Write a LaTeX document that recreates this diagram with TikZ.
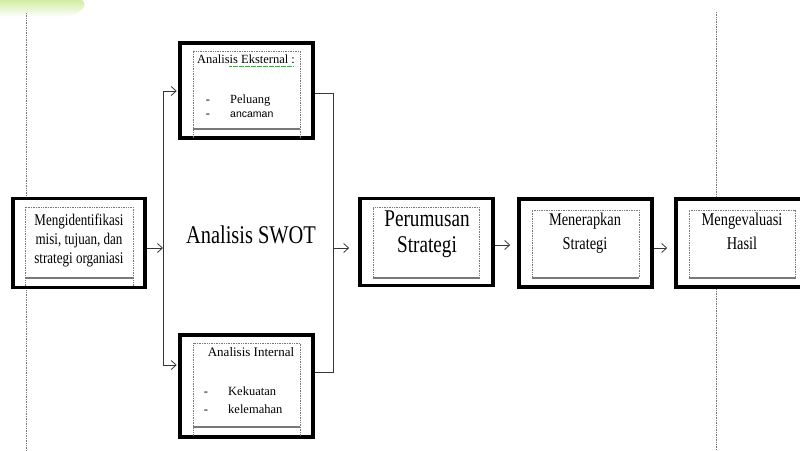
\documentclass[tikz,border=0pt]{standalone}
\usepackage{fontspec}
\setmainfont{Liberation Serif}
\newfontfamily\narrowserif{Liberation Serif}[FakeStretch=0.8]
\newfontfamily\uisans{Liberation Sans}
\usetikzlibrary{arrows.meta}

\definecolor{blobgreen}{RGB}{210,236,164}
\definecolor{inkline}{RGB}{55,55,55}
\definecolor{dotgray}{RGB}{120,120,120}
\definecolor{spellgreen}{RGB}{70,165,70}

\tikzset{
  stagebox/.style={draw=black, fill=white, line width=3.5pt, inner sep=0pt},
  guide/.style={draw=dotgray, line width=0.6pt, dash pattern=on 0.8pt off 0.9pt},
  frame/.style={draw=dotgray, line width=0.6pt, dash pattern=on 0.8pt off 0.9pt},
  frameedge/.style={draw=dotgray, line width=1.1pt, dash pattern=on 0.45pt off 0.35pt},
  link/.style={draw=inkline, line width=0.8pt},
  flow/.style={link, -{Straight Barb[length=5pt,width=9pt]}},
  caption/.style={inner sep=0pt, align=center, text=black},
  smalltext/.style={inner sep=0pt, text=black, font=\fontsize{12.5}{14}\selectfont},
}

\begin{document}
\begin{tikzpicture}[x=1pt,y=-1pt]
\useasboundingbox (0,0) rectangle (800,450);
\clip (0,0) rectangle (800,450);

% soft green patch in the corner
\shade[top color=blobgreen, bottom color=white]
  (0,0) -- (82,0) .. controls (90,6) and (78,17) .. (60,17) -- (0,17) -- cycle;

% vertical dotted guides
\draw[guide] (26,13) -- (26,450);
\draw[guide] (716,12) -- (716,450);

% stage boxes
\node[stagebox, minimum width=132pt, minimum height=89pt]  (ident)     at (79,243)    {};
\node[stagebox, minimum width=133pt, minimum height=95pt]  (ext)       at (246.5,90.5) {};
\node[stagebox, minimum width=133pt, minimum height=102pt] (int)       at (246.5,386) {};
\node[stagebox, minimum width=133pt, minimum height=87pt]  (perumusan) at (426.5,242) {};
\node[stagebox, minimum width=133pt, minimum height=88pt]  (penerapan) at (585.5,243) {};
\node[stagebox, minimum width=132pt, minimum height=88pt]  (evaluasi)  at (742,243)   {};

% dotted text frames inside the boxes
\draw[frame] (25,286) -- (25,207) -- (133,207) -- (133,286);
\draw[frameedge] (25,278) -- (133,278);
\draw[frame] (193,138) -- (193,51) -- (300,51) -- (300,138);
\draw[frameedge] (193,129) -- (300,129);
\draw[frame] (193,436) -- (193,343) -- (300,343) -- (300,436);
\draw[frameedge] (193,427) -- (300,427);
\draw[frame] (373,278) -- (373,207) -- (479,207) -- (479,278);
\draw[frameedge] (373,278) -- (479,278);
\draw[frame] (532,278) -- (532,210) -- (639,210) -- (639,278);
\draw[frameedge] (532,278) -- (639,278);
\draw[frame] (689,278) -- (689,210) -- (795,210) -- (795,278);
\draw[frameedge] (689,278) -- (795,278);

% texts
\node[caption, font=\narrowserif\fontsize{16.3}{19}\selectfont] (identText) at (79,241)
  {Mengidentifikasi\\misi, tujuan, dan\\strategi organiasi};
\node[caption, font=\narrowserif\fontsize{25.5}{30}\selectfont] (swot) at (251,234.5) {Analisis SWOT};

\node[smalltext, anchor=base] (extTitle) at (246,63) {Analisis Eksternal :};
\draw[spellgreen, line width=0.6pt, dash pattern=on 0.6pt off 0.6pt] (229,66) -- (293,66);
\node[smalltext, anchor=base] (extDashA) at (208,103) {-};
\node[smalltext, anchor=base west] (peluang) at (230,103) {Peluang};
\node[smalltext, anchor=base] (extDashB) at (208,117) {-};
\node[inner sep=0pt, anchor=base west, font=\uisans\fontsize{10.5}{12}\selectfont] (ancaman) at (230,117) {ancaman};

\node[smalltext, anchor=base, font=\fontsize{13}{15}\selectfont] (intTitle) at (251,356) {Analisis Internal};
\node[smalltext, anchor=base] (intDashA) at (206,395) {-};
\node[smalltext, anchor=base west] (kekuatan) at (228,395) {Kekuatan};
\node[smalltext, anchor=base] (intDashB) at (206,413) {-};
\node[smalltext, anchor=base west] (kelemahan) at (228,413) {kelemahan};

\node[caption, font=\narrowserif\fontsize{24}{26}\selectfont] (perumusanText) at (427,234)
  {Perumusan\\Strategi};
\node[caption, font=\narrowserif\fontsize{18}{23.5}\selectfont] (penerapanText) at (585,233)
  {Menerapkan\\Strategi};
\node[caption, font=\narrowserif\fontsize{18}{23.5}\selectfont] (evaluasiText) at (742,231.5)
  {Mengevaluasi\\Hasil};

% connectors
\coordinate (fork)    at (163,248);
\coordinate (forkTop) at (163,91);
\coordinate (forkBot) at (163,365);
\draw[flow] (ident.east |- fork) -- (fork);
\draw[link] (forkTop) -- (forkBot);
\draw[flow, shorten >=1.5pt] (forkTop) -- (ext.west |- forkTop);
\draw[flow, shorten >=1.5pt] (forkBot) -- (int.west |- forkBot);

\coordinate (joinTop) at (333,93);
\coordinate (joinBot) at (333,372);
\coordinate (join)    at (333,248);
\draw[link] (ext.east |- joinTop) -- (joinTop) -- (joinBot) -- (int.east |- joinBot);
\draw[flow, shorten >=9pt] (join) -- (perumusan.west |- join);

\coordinate (rowA) at (0,245);
\coordinate (rowB) at (0,248);
\draw[flow, shorten >=7pt] (perumusan.east |- rowA) -- (penerapan.west |- rowA);
\draw[flow, shorten >=7pt] (penerapan.east |- rowB) -- (evaluasi.west |- rowB);
\end{tikzpicture}
\end{document}
